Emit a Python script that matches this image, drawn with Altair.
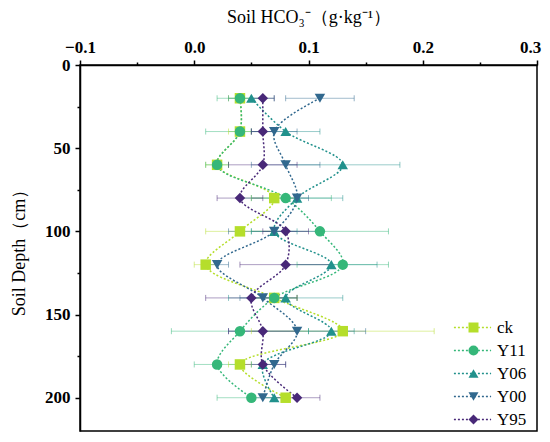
import altair as alt
import pandas as pd

depths = [20, 40, 60, 80, 100, 120, 140, 160, 180, 200]
series = ["ck", "Y11", "Y06", "Y00", "Y95"]
colors = ["#b5de2b", "#35b779", "#21918c", "#31688e", "#482878"]
shapes = ["square", "circle", "triangle-up", "triangle-down", "diamond"]

ck_mean = [0.04, 0.04, 0.02, 0.07, 0.04, 0.01, 0.07, 0.13, 0.04, 0.08]
y11_mean = [0.04, 0.04, 0.02, 0.08, 0.11, 0.13, 0.07, 0.04, 0.02, 0.05]
y06_mean = [0.05, 0.08, 0.13, 0.09, 0.07, 0.12, 0.08, 0.12, 0.06, 0.07]
y00_mean = [0.11, 0.07, 0.08, 0.09, 0.07, 0.02, 0.06, 0.09, 0.07, 0.06]
y95_mean = [0.06, 0.06, 0.06, 0.04, 0.08, 0.08, 0.05, 0.06, 0.06, 0.09]

ck_err = [0.01, 0.01, 0.01, 0.02, 0.03, 0.01, 0.02, 0.08, 0.01, 0.01]
y11_err = [0.02, 0.03, 0.01, 0.04, 0.06, 0.04, 0.02, 0.06, 0.02, 0.03]
y06_err = [0.02, 0.03, 0.05, 0.04, 0.02, 0.04, 0.05, 0.02, 0.01, 0.01]
y00_err = [0.03, 0.02, 0.03, 0.01, 0.04, 0.01, 0.02, 0.06, 0.01, 0.01]
y95_err = [0.01, 0.01, 0.03, 0.02, 0.02, 0.04, 0.04, 0.03, 0.02, 0.02]

x_ticks = [-0.1, -0.05, 0.0, 0.05, 0.1, 0.15, 0.2, 0.25, 0.3]
y_ticks = [0, 25, 50, 75, 100, 125, 150, 175, 200]

means = [ck_mean, y11_mean, y06_mean, y00_mean, y95_mean]
errs = [ck_err, y11_err, y06_err, y00_err, y95_err]

rows = []
for s, m, e in zip(series, means, errs):
    for d, mv, ev in zip(depths, m, e):
        rows.append({"series": s, "depth": d, "mean": mv,
                     "lo": round(mv - ev, 4), "hi": round(mv + ev, 4)})
df = pd.DataFrame(rows)

FONT = "Liberation Serif"
xs = alt.Scale(domain=[-0.1, 0.3], nice=False, zero=False)
ys = alt.Scale(domain=[0, 220], nice=False, zero=False, reverse=True)
cs = alt.Scale(domain=series, range=colors)
ss = alt.Scale(domain=series, range=shapes)

x_major = "abs(round(datum.value * 100)) % 10 == 0"
y_major = "datum.value % 50 == 0"

xaxis = alt.Axis(orient="top", values=x_ticks, title="Soil HCO₃⁻（g·kg⁻¹）",
                 labelExpr=f"{x_major} ? format(datum.value, '.1f') : ''",
                 labelFlush=False, labelOverlap=False, grid=False,
                 labelFont=FONT, labelFontSize=17, labelFontWeight="bold", labelColor="black",
                 labelOffset={"condition": {"test": "datum.value > 0.29", "value": -7}, "value": 0},
                 titleFont=FONT, titleFontSize=18, titleFontWeight="normal", titleColor="black",
                 tickSize={"condition": {"test": x_major, "value": 5}, "value": 3},
                 tickWidth=1.5, tickColor="black", domainColor="black", domainWidth=1.5,
                 labelPadding=4, titlePadding=12)
yaxis = alt.Axis(values=y_ticks, title="Soil Depth（cm）",
                 labelExpr=f"{y_major} ? format(datum.value, 'd') : ''",
                 labelFlush=False, labelOverlap=False, grid=False,
                 labelFont=FONT, labelFontSize=17, labelFontWeight="bold", labelColor="black",
                 titleFont=FONT, titleFontSize=18, titleFontWeight="normal", titleColor="black",
                 tickSize={"condition": {"test": y_major, "value": 5}, "value": 3},
                 tickWidth=1.5, tickColor="black", domainColor="black", domainWidth=1.5,
                 labelPadding=5, titlePadding=16)

base = alt.Chart(df)

err_rule = base.mark_rule(strokeWidth=1, opacity=0.45).encode(
    x=alt.X("lo:Q", scale=xs, axis=xaxis),
    x2="hi:Q",
    y=alt.Y("depth:Q", scale=ys, axis=yaxis),
    color=alt.Color("series:N", scale=cs, legend=None),
)

caps = base.transform_fold(["lo", "hi"], as_=["side", "cap"]).mark_point(
    shape="M0,-1V1", size=36, filled=False, strokeWidth=1, opacity=0.5
).encode(
    x=alt.X("cap:Q", scale=xs, axis=xaxis),
    y=alt.Y("depth:Q", scale=ys, axis=yaxis),
    color=alt.Color("series:N", scale=cs, legend=None),
)

lines = base.mark_line(interpolate="catmull-rom", strokeDash=[2, 2], strokeWidth=1.5).encode(
    x=alt.X("mean:Q", scale=xs, axis=xaxis),
    y=alt.Y("depth:Q", scale=ys, axis=yaxis),
    order=alt.Order("depth:Q"),
    stroke=alt.Stroke("series:N", scale=cs, legend=alt.Legend(
        orient="none", legendX=384, legendY=254, title=None, padding=0,
        symbolType="M-2.4,0H2.4", symbolSize=240, symbolStrokeWidth=1.5, symbolDash=[2, 2],
        labelExpr="''", labelFont=FONT, labelFontSize=17, labelOffset=15,
        rowPadding=5)),
)

leg = dict(orient="none", legendX=385, legendY=254, title=None, padding=0,
           symbolSize=100, symbolStrokeWidth=0, symbolOpacity=1,
           labelColor="black", labelFont=FONT, labelFontSize=17, labelOffset=15,
           rowPadding=5)

points = base.mark_point(filled=True, size=110, opacity=1).encode(
    x=alt.X("mean:Q", scale=xs, axis=xaxis),
    y=alt.Y("depth:Q", scale=ys, axis=yaxis),
    color=alt.Color("series:N", scale=cs, legend=alt.Legend(**leg)),
    shape=alt.Shape("series:N", scale=ss, legend=alt.Legend(**leg)),
)

chart = alt.layer(err_rule, caps, lines, points).resolve_legend(
    color="independent", stroke="independent", shape="independent"
).properties(
    width=457, height=366,
    autosize=alt.AutoSizeParams(type="none"),
    padding={"left": 72, "top": 57, "right": 5, "bottom": 3},
).configure_view(stroke="black", strokeWidth=1.5)

chart.save("out.html", embed_options={"renderer": "svg", "actions": False})
